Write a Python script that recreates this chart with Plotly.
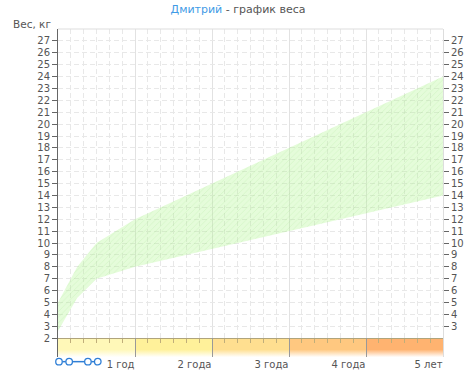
import plotly.graph_objects as go

# ---- data ----
months = [0, 3, 6, 12, 60]
weight_low = [2.6, 5.4, 7.0, 8.0, 14.0]
weight_high = [5.0, 8.0, 10.0, 12.0, 24.0]

year_months = [0, 12, 24, 36, 48, 60]
year_labels = ["", "1 год", "2 года", "3 года", "4 года", "5 лет"]
band_colors = ["#fff8b8", "#fff19a", "#ffdf90", "#ffc880", "#ffb370"]

y_left_ticks = list(range(2, 28))
y_right_ticks = list(range(3, 28))
minor_months = [m for m in range(2, 60, 2) if m % 12 != 0]

# ---- geometry ----
W, H = 476, 382
ML, MR, MT, MB = 58, 28, 29, 22
PW = W - ML - MR
PH = H - MT - MB
BAND_PX = 19
Y_TOP = 28
Y_BASE = 2
px_per_kg = (PH - BAND_PX) / (Y_TOP - Y_BASE)
Y_MIN = Y_BASE - BAND_PX / px_per_kg
band_pos = BAND_PX / PH

FONT = "DejaVu Sans"
TXT = "#555555"

fig = go.Figure()

# bottom band (age strip): coloured at the top, fading to white downwards
for i, col in enumerate(band_colors):
    x0, x1 = year_months[i], year_months[i + 1]
    fig.add_trace(go.Scatter(
        x=[x0, x1, x1, x0, x0], y=[Y_MIN, Y_MIN, Y_BASE, Y_BASE, Y_MIN],
        mode="lines", line=dict(width=0), fill="toself",
        fillgradient=dict(type="vertical", start=Y_BASE, stop=Y_MIN,
                          colorscale=[[0, col], [0.45, col],
                                      [0.85, "#ffffff"], [1, "#ffffff"]]),
        hoverinfo="skip", showlegend=False))

# normal weight range
fig.add_trace(go.Scatter(x=months, y=weight_low, mode="lines",
                         line=dict(width=0), hoverinfo="skip", showlegend=False))
fig.add_trace(go.Scatter(x=months, y=weight_high, mode="lines",
                         line=dict(width=0), fill="tonexty",
                         fillcolor="rgba(175,248,140,0.32)",
                         fillpattern=dict(shape="/", size=4, solidity=0.2,
                                          bgcolor="rgba(175,248,140,0.32)",
                                          fgcolor="rgba(130,215,100,0.16)",
                                          fillmode="replace"),
                         hoverinfo="skip", showlegend=False))

# helper traces for overlay axes
fig.add_trace(go.Scatter(x=[None], y=[None], xaxis="x", yaxis="y2",
                         showlegend=False, hoverinfo="skip"))
fig.add_trace(go.Scatter(x=[None], y=[None], xaxis="x2", yaxis="y",
                         showlegend=False, hoverinfo="skip"))

tickfont = dict(family=FONT, size=10, color=TXT)

fig.update_layout(
    width=W, height=H,
    margin=dict(l=ML, r=MR, t=MT, b=MB, pad=0),
    paper_bgcolor="white", plot_bgcolor="white",
    hovermode=False, showlegend=False,
    title=dict(text="<span style='color:#3f9be6'>Дмитрий</span> - график веса",
               x=0.5, xref="container", xanchor="center",
               y=1 - 9 / H, yref="container", yanchor="middle",
               font=dict(family=FONT, size=11, color=TXT)),
    xaxis=dict(range=[0, 60], domain=[0, 1], anchor="y", side="bottom",
               tickvals=year_months, ticktext=year_labels,
               ticks="inside", ticklen=BAND_PX, tickcolor="#999999", tickwidth=1,
               ticklabelposition="outside left",
               tickfont=tickfont, showline=False, zeroline=False,
               showgrid=True, gridcolor="#e2e2e2", gridwidth=1,
               minor=dict(dtick=2, tick0=0, showgrid=True, gridcolor="#e8e8e8",
                          griddash="5px,3px", ticks="")),
    xaxis2=dict(range=[0, 60], overlaying="x", anchor="free", position=band_pos,
                side="bottom", tickvals=minor_months, ticks="outside", ticklen=4,
                tickcolor="#c0ae7a", showticklabels=False, showline=True,
                linecolor="#b0a47c", linewidth=1, showgrid=False, zeroline=False),
    yaxis=dict(range=[Y_MIN, Y_TOP], domain=[0, 1], anchor="x",
               tickvals=y_left_ticks, ticks="outside", ticklen=5,
               tickcolor="#666666", tickfont=tickfont,
               showline=True, linecolor="#666666", linewidth=1,
               showgrid=True, gridcolor="#e8e8e8", griddash="5px,3px",
               zeroline=False),
    yaxis2=dict(range=[Y_MIN, Y_TOP], overlaying="y", side="right", anchor="x",
                tickvals=y_right_ticks, ticks="outside", ticklen=5,
                tickcolor="#666666", tickfont=tickfont,
                showline=True, linecolor="#dddddd", linewidth=1,
                showgrid=False, zeroline=False),
)

# top frame line
fig.add_shape(type="line", xref="paper", yref="paper", x0=0, x1=1, y0=1, y1=1,
              line=dict(color="#dddddd", width=1))

# y-axis caption
fig.add_annotation(text="Вес, кг", xref="paper", yref="paper",
                   x=(10 - ML) / PW, y=1 + 5 / PH, xanchor="left", yanchor="middle",
                   showarrow=False, font=dict(family=FONT, size=10.5, color=TXT))

# small navigator icon under the axis
def px_x(p):
    return (p - ML) / PW

def px_y(p):
    return (H - MB - p) / PH

icon_y = 364.7
icon_cx = [59.0, 69.3, 88.3, 98.3]
for a, b in zip(icon_cx[:-1], icon_cx[1:]):
    fig.add_shape(type="line", xref="paper", yref="paper",
                  x0=px_x(a + 3.3), x1=px_x(b - 3.3), y0=px_y(icon_y), y1=px_y(icon_y),
                  line=dict(color="#2f7fd6", width=1.5))
for c in icon_cx:
    fig.add_shape(type="circle", xref="paper", yref="paper",
                  x0=px_x(c - 3.3), x1=px_x(c + 3.3),
                  y0=px_y(icon_y + 3.3), y1=px_y(icon_y - 3.3),
                  line=dict(color="#2f7fd6", width=1.3), fillcolor="white")

fig.write_html("out.html")
